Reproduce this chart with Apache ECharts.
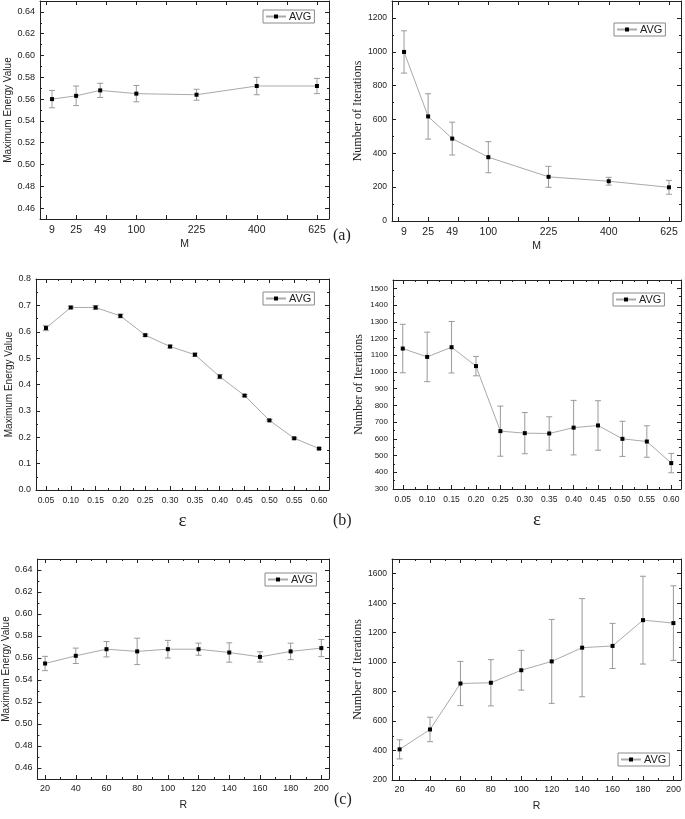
<!DOCTYPE html>
<html><head><meta charset="utf-8">
<script src="https://cdn.jsdelivr.net/npm/echarts@6/dist/echarts.min.js"></script>
<style>html,body{margin:0;padding:0;background:#fff}#c{width:685px;height:819px}</style>
</head><body><div id="c"></div>
<script>
// ---------- data ----------
const mValues = [9, 25, 49, 100, 225, 400, 625];
const energyByM = [0.560, 0.563, 0.568, 0.565, 0.564, 0.572, 0.572];
const energyByMErr = [0.008, 0.009, 0.0065, 0.0075, 0.005, 0.008, 0.007];
const iterByM = [999, 618, 487, 377, 261, 235, 199];
const iterByMErr = [125, 134, 97, 92, 62, 23, 41];

const epsValues = [0.05, 0.10, 0.15, 0.20, 0.25, 0.30, 0.35, 0.40, 0.45, 0.50, 0.55, 0.60];
const energyByEps = [0.614, 0.692, 0.692, 0.660, 0.587, 0.544, 0.513, 0.430, 0.358, 0.264, 0.196, 0.157];
const energyByEpsErr = [0.010, 0.005, 0.007, 0.007, 0.004, 0.005, 0.006, 0.008, 0.004, 0.003, 0.003, 0.003];
const iterByEps = [1140, 1090, 1148, 1035, 646, 634, 632, 667, 680, 600, 584, 455];
const iterByEpsErr = [145, 148, 154, 58, 150, 123, 100, 163, 148, 105, 94, 58];

const rValues = [20, 40, 60, 80, 100, 120, 140, 160, 180, 200];
const energyByR = [0.555, 0.562, 0.568, 0.566, 0.568, 0.568, 0.565, 0.561, 0.566, 0.569];
const energyByRErr = [0.0065, 0.007, 0.007, 0.012, 0.008, 0.0055, 0.0088, 0.0047, 0.0075, 0.0078];
const iterByR = [408, 543, 855, 860, 945, 1005, 1098, 1110, 1285, 1265];
const iterByRErr = [65, 83, 150, 157, 135, 285, 333, 153, 298, 253];

const energyTicks = [0.46, 0.48, 0.50, 0.52, 0.54, 0.56, 0.58, 0.60, 0.62, 0.64];
const energyEpsTicks = [0.0, 0.1, 0.2, 0.3, 0.4, 0.5, 0.6, 0.7, 0.8];
const iterMTicks = [0, 200, 400, 600, 800, 1000, 1200];
const iterEpsTicks = [300, 400, 500, 600, 700, 800, 900, 1000, 1100, 1200, 1300, 1400, 1500];
const iterRTicks = [200, 400, 600, 800, 1000, 1200, 1400, 1600];

// ---------- helpers ----------
const SANS = 'Liberation Sans, Arial, sans-serif';
const SERIF = 'Liberation Serif, Times New Roman, serif';
const AX = '#222';
function seq(a, b, step) { const r = []; for (let v = a; v <= b + 1e-9; v += step) r.push(Math.round(v * 10000) / 10000); return r; }

const xAxes = [], yAxes = [], grids = [], series = [], legends = [];

function addAxes(list, dim, g, c) {
  const isX = dim === 'x';
  const base = { type: 'value', gridIndex: g, min: c.min, max: c.max, splitLine: { show: false }, silent: true };
  const mainIdx = list.length;
  list.push(Object.assign({}, base, {
    position: isX ? 'bottom' : 'left',
    axisLine: { show: true, onZero: false, lineStyle: { color: AX, width: 1 } },
    axisTick: { show: true, inside: true, length: 4, customValues: c.major, lineStyle: { color: AX } },
    axisLabel: { show: true, customValues: c.labels, formatter: c.fmt, fontSize: c.fontSize, margin: c.margin, color: '#222', fontFamily: SANS },
    name: c.name, nameLocation: 'middle', nameGap: c.nameGap,
    nameTextStyle: { fontSize: c.nameSize, fontFamily: c.nameFont, color: '#222' }
  }));
  const blank = { axisLabel: { show: false }, name: '' };
  if (c.minor) list.push(Object.assign({}, base, blank, {
    position: isX ? 'bottom' : 'left',
    axisLine: { show: false, onZero: false },
    axisTick: { show: true, inside: true, length: 2, customValues: c.minor, lineStyle: { color: AX } }
  }));
  list.push(Object.assign({}, base, blank, {
    position: isX ? 'top' : 'right',
    axisLine: { show: true, onZero: false, lineStyle: { color: AX, width: 1 } },
    axisTick: { show: true, inside: true, length: 4, customValues: c.major, lineStyle: { color: AX } }
  }));
  if (c.minor) list.push(Object.assign({}, base, blank, {
    position: isX ? 'top' : 'right',
    axisLine: { show: false, onZero: false },
    axisTick: { show: true, inside: true, length: 2, customValues: c.minor, lineStyle: { color: AX } }
  }));
  return mainIdx;
}

function errRender(params, api) {
  const x = api.value(0), lo = api.value(1), hi = api.value(2);
  const p1 = api.coord([x, hi]), p2 = api.coord([x, lo]);
  const w = 3, st = { stroke: '#9a9a9a', lineWidth: 1 };
  return { type: 'group', children: [
    { type: 'line', shape: { x1: p1[0], y1: p1[1], x2: p2[0], y2: p2[1] }, style: st },
    { type: 'line', shape: { x1: p1[0] - w, y1: p1[1], x2: p1[0] + w, y2: p1[1] }, style: st },
    { type: 'line', shape: { x1: p2[0] - w, y1: p2[1], x2: p2[0] + w, y2: p2[1] }, style: st }
  ]};
}

function panel(p) {
  const g = grids.length;
  grids.push({ left: p.grid[0], top: p.grid[1], width: p.grid[2], height: p.grid[3], containLabel: false });
  const xi = addAxes(xAxes, 'x', g, p.x);
  const yi = addAxes(yAxes, 'y', g, p.y);
  const pts = p.xs.map((x, i) => [x, p.vals[i]]);
  const errs = p.xs.map((x, i) => [x, p.vals[i] - p.errs[i], p.vals[i] + p.errs[i]]);
  series.push({ type: 'custom', name: 'err' + g, xAxisIndex: xi, yAxisIndex: yi, renderItem: errRender,
    encode: { x: 0, y: [1, 2] }, data: errs, silent: true, z: 1 });
  series.push({ type: 'line', name: 'AVG', xAxisIndex: xi, yAxisIndex: yi, data: pts,
    symbol: 'rect', symbolSize: 4, showSymbol: true, itemStyle: { color: '#000' },
    lineStyle: { color: '#aaaaaa', width: 1 }, z: 3, silent: true });
  legends.push({ data: ['AVG'], left: p.legend[0], top: p.legend[1], orient: 'horizontal',
    borderColor: '#8a8a8a', borderWidth: 1, padding: [1, 3, 1, 2], itemWidth: 20, itemHeight: 5, itemGap: 4,
    textStyle: { fontSize: 11, fontFamily: SANS, color: '#222', padding: [0, 0, 0, -2] }, selectedMode: false });
}

// M axis: positions are sqrt(M)
const mPos = mValues.map(Math.sqrt);
const mFmt = v => { const i = mPos.findIndex(p => Math.abs(p - v) < 1e-6); return i >= 0 ? String(mValues[i]) : ''; };
const mX = () => ({ min: 2, max: 26, major: seq(2.5, 25, 2.5), labels: mPos, fmt: mFmt, fontSize: 10.5, margin: 6,
  name: 'M', nameGap: 20, nameSize: 10.5, nameFont: SANS });
const epsX = { min: 0.03, max: 0.62, major: epsValues, minor: seq(0.075, 0.575, 0.05), labels: epsValues,
  fmt: v => v.toFixed(2), fontSize: 8.5, margin: 6, name: 'ε', nameGap: 22, nameSize: 19, nameFont: SERIF };
const rX = { min: 15, max: 205, major: rValues, minor: seq(30, 190, 20), labels: rValues,
  fmt: v => String(v), fontSize: 9, margin: 5, name: 'R', nameGap: 21, nameSize: 10.5, nameFont: SANS };
const energyY = (gap) => ({ min: 0.45, max: 0.65, major: energyTicks, minor: seq(0.45, 0.65, 0.02), labels: energyTicks,
  fmt: v => v.toFixed(2), fontSize: 9, margin: 5, name: 'Maximum Energy Value', nameGap: gap, nameSize: 10, nameFont: SANS });

panel({ grid: [40, 1, 289, 218], xs: mPos, vals: energyByM, errs: energyByMErr, x: mX(), y: energyY(26), legend: [263, 10] });
panel({ grid: [392, 1, 289, 220], xs: mPos, vals: iterByM, errs: iterByMErr, x: mX(),
  y: { min: 0, max: 1300, major: iterMTicks, minor: seq(100, 1300, 200), labels: iterMTicks, fmt: v => String(v), fontSize: 8.5, margin: 5,
       name: 'Number of Iterations', nameGap: 28, nameSize: 12, nameFont: SERIF }, legend: [614, 23] });
panel({ grid: [36, 279, 293, 211], xs: epsValues, vals: energyByEps, errs: energyByEpsErr, x: epsX,
  y: { min: 0, max: 0.8, major: energyEpsTicks, minor: seq(0.05, 0.75, 0.1), labels: energyEpsTicks, fmt: v => v.toFixed(1), fontSize: 9, margin: 5,
       name: 'Maximum Energy Value', nameGap: 22, nameSize: 10, nameFont: SANS }, legend: [263, 292] });
panel({ grid: [393, 280, 288, 209], xs: epsValues, vals: iterByEps, errs: iterByEpsErr, x: epsX,
  y: { min: 300, max: 1550, major: iterEpsTicks, minor: seq(350, 1550, 100), labels: iterEpsTicks, fmt: v => String(v), fontSize: 8, margin: 5,
       name: 'Number of Iterations', nameGap: 28, nameSize: 12, nameFont: SERIF }, legend: [613, 293] });
panel({ grid: [37, 559, 292, 220], xs: rValues, vals: energyByR, errs: energyByRErr, x: rX, y: energyY(25), legend: [265, 573] });
panel({ grid: [392, 559, 289, 221], xs: rValues, vals: iterByR, errs: iterByRErr, x: rX,
  y: { min: 200, max: 1700, major: iterRTicks, minor: seq(300, 1700, 200), labels: iterRTicks, fmt: v => String(v), fontSize: 8.5, margin: 5,
       name: 'Number of Iterations', nameGap: 27, nameSize: 12, nameFont: SERIF }, legend: [618, 753] });

const chart = echarts.init(document.getElementById('c'), null, { renderer: 'canvas' });
chart.setOption({
  animation: false,
  backgroundColor: '#fff',
  textStyle: { fontFamily: SANS },
  grid: grids, xAxis: xAxes, yAxis: yAxes, series: series, legend: legends,
  graphic: [
    { type: 'text', left: 333, top: 228, style: { text: '(a)', font: '16px Liberation Serif', fill: '#222' } },
    { type: 'text', left: 333, top: 513, style: { text: '(b)', font: '16px Liberation Serif', fill: '#222' } },
    { type: 'text', left: 334, top: 792, style: { text: '(c)', font: '16px Liberation Serif', fill: '#222' } }
  ]
});
</script></body></html>
